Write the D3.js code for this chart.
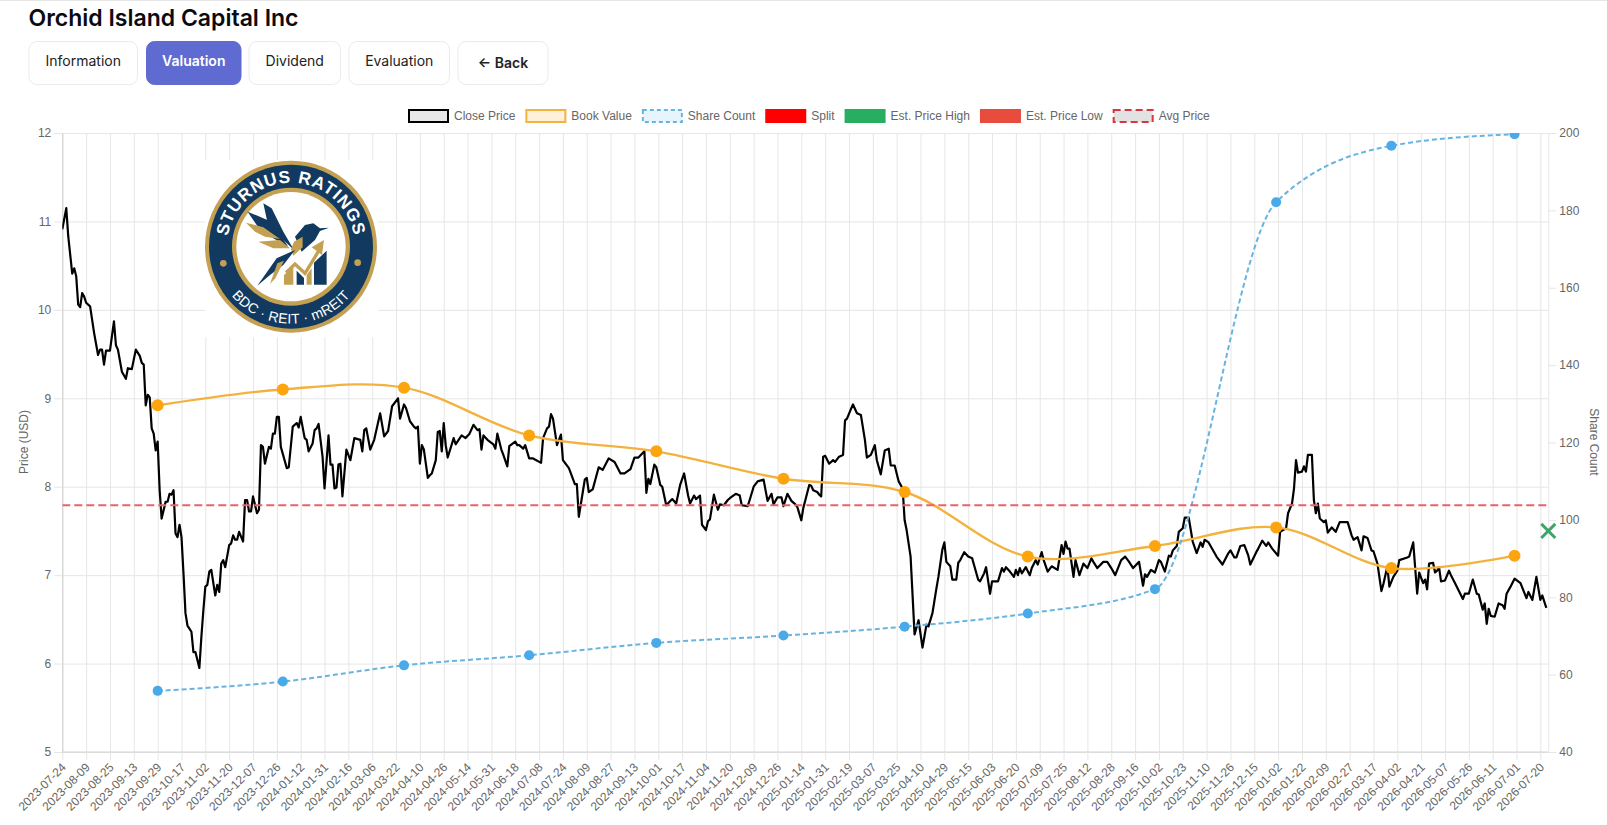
<!DOCTYPE html>
<html>
<head>
<meta charset="utf-8">
<title>Orchid Island Capital Inc</title>
<script src="https://cdn.jsdelivr.net/npm/d3@7"></script>
<style>
  html, body { margin: 0; padding: 0; background: #fff; overflow: hidden; }
  svg { display: block; }
  .nav { font-family: Inter, sans-serif; font-size: 14px; }
  .chart-text { font-family: "Liberation Sans", Arial, sans-serif; font-size: 12px; fill: #666; }
</style>
</head>
<body>
<div id="chart"></div>
<script>
const pageTitle = 'Orchid Island Capital Inc'
const navLabels = ['Information', 'Valuation', 'Dividend', 'Evaluation', '← Back']
const activeNav = 'Valuation'

const legendLabels = ['Close Price', 'Book Value', 'Share Count', 'Split', 'Est. Price High', 'Est. Price Low', 'Avg Price']

// one label every 12 trading days
const xLabels = [
  '2023-07-24','2023-08-09','2023-08-25','2023-09-13','2023-09-29','2023-10-17','2023-11-02','2023-11-20','2023-12-07','2023-12-26',
  '2024-01-12','2024-01-31','2024-02-16','2024-03-06','2024-03-22','2024-04-10','2024-04-26','2024-05-14','2024-05-31','2024-06-18',
  '2024-07-08','2024-07-24','2024-08-09','2024-08-27','2024-09-13','2024-10-01','2024-10-17','2024-11-04','2024-11-20','2024-12-09',
  '2024-12-26','2025-01-14','2025-01-31','2025-02-19','2025-03-07','2025-03-25','2025-04-10','2025-04-29','2025-05-15','2025-06-03',
  '2025-06-20','2025-07-09','2025-07-25','2025-08-12','2025-08-28','2025-09-16','2025-10-02','2025-10-23','2025-11-10','2025-11-26',
  '2025-12-15','2026-01-02','2026-01-22','2026-02-09','2026-02-27','2026-03-17','2026-04-02','2026-04-21','2026-05-07','2026-05-26',
  '2026-06-11','2026-07-01','2026-07-20'
]
const priceTicks = [5, 6, 7, 8, 9, 10, 11, 12]
const shareTicks = [40, 60, 80, 100, 120, 140, 160, 180, 200]

// trading day number and close, row by row
const closeDay = [
  0,2,3,5,6,7,8,9,10,11,12,14,
  16,18,19,20,21,22,24,26,27,28,30,32,
  33,35,37,39,40,41,42,43,44,45,46,47,
  48,49,50,52,53,54,55,56,57,58,59,60,
  61,62,63,65,66,67,69,70,71,72,73,74,
  75,77,78,79,80,81,82,84,85,86,87,88,
  89,91,92,93,94,95,96,98,99,100,101,102,
  104,105,106,107,108,109,110,113,114,116,118,119,
  120,122,123,124,126,127,128,129,131,132,134,135,
  136,137,138,139,140,141,143,145,147,150,151,152,
  153,155,157,160,
  162,164,166,169,170,172,173,175,177,178,179,180,
  181,182,184,185,186,188,189,190,191,192,193,194,
  197,198,201,203,205,207,209,210,211,212,214,217,
  218,219,221,222,224,225,228,229,230,232,233,235,
  237,241,242,244,245,246,247,249,251,252,255,256,
  258,259,260,262,263,264,265,267,270,272,275,278,
  281,283,286,288,290,293,294,295,296,298,299,301,
  302,304,307,309,311,313,315,316,318,319,321,322,
  324,325,326,328,330,331,333,335,336,339,341,342,
  345,346,348,350,353,
  355,357,358,360,362,363,365,367,369,370,372,373,
  376,377,378,380,381,382,383,384,386,388,389,391,
  393,394,395,397,398,400,402,404,405,407,409,410,
  412,414,416,417,419,421,423,424,425,427,429,431,
  433,435,436,438,440,441,443,444,445,447,448,450,
  451,452,454,456,458,461,462,464,465,467,468,471,
  473,474,475,477,479,480,481,482,483,485,487,488,
  490,491,493,494,496,498,501,503,504,505,506,507,
  509,510,512,514,516,518,519,521,524,526,528,530,
  533,535,537,539,542,
  544,545,546,548,550,552,553,555,557,558,559,561,
  562,564,565,567,569,571,573,574,575,577,581,584,
  587,588,590,591,593,595,597,598,601,602,604,606,
  607,609,612,613,616,617,619,620,621,622,624,625,
  626,627,629,630,631,632,633,635,636,637,639,641,
  643,647,649,650,652,654,655,657,659,660,662,664,
  665,667,668,670,672,673,677,678,680,682,683,685,
  686,687,688,690,691,692,693,694,696,698,699,701,
  705,706,708,710,712,713,715,716,717,718,719,721,
  723,725,726,727,729,731,734,737,738,740,742,744,
  745,747
]
const closePrice = [
  10.91,11.15,10.83,10.41,10.47,10.38,10.06,10.03,10.19,10.15,10.08,10.04,
  9.74,9.49,9.55,9.55,9.38,9.54,9.54,9.87,9.60,9.55,9.30,9.22,
  9.34,9.33,9.55,9.48,9.40,9.38,8.92,9.04,9.01,8.66,8.60,8.41,
  8.51,7.96,7.64,7.83,7.83,7.92,7.91,7.96,7.47,7.43,7.57,7.43,
  7.02,6.57,6.43,6.36,6.13,6.13,5.95,6.30,6.60,6.87,6.89,7.04,
  7.06,6.77,6.89,6.81,7.13,7.17,7.09,7.34,7.36,7.45,7.40,7.40,
  7.49,7.38,7.85,7.85,7.72,7.72,7.89,7.70,7.74,8.47,8.45,8.26,
  8.45,8.43,8.60,8.60,8.79,8.79,8.45,8.21,8.22,8.68,8.72,8.67,
  8.79,8.55,8.53,8.40,8.49,8.64,8.66,8.71,8.34,7.98,8.58,8.25,
  8.25,7.98,7.99,8.25,8.26,7.89,8.42,8.30,8.55,8.53,8.40,8.64,
  8.66,8.42,8.53,8.83,
  8.57,8.63,8.91,9.00,8.77,8.93,8.89,8.74,8.68,8.66,8.68,8.26,
  8.47,8.42,8.10,8.13,8.15,8.30,8.62,8.63,8.40,8.72,8.47,8.33,
  8.55,8.48,8.58,8.55,8.60,8.70,8.64,8.65,8.42,8.58,8.53,8.48,
  8.43,8.60,8.42,8.36,8.23,8.46,8.51,8.47,8.47,8.43,8.47,8.32,
  8.32,8.27,8.55,8.66,8.68,8.82,8.77,8.47,8.59,8.30,8.21,8.15,
  8.03,8.03,7.66,7.94,8.08,8.10,7.94,7.97,8.22,8.19,8.32,8.28,
  8.15,8.15,8.20,8.33,8.33,8.40,7.93,8.09,8.03,8.25,8.22,8.02,
  8.00,7.79,7.86,7.81,8.02,8.15,7.90,7.81,7.90,7.86,7.90,7.57,
  7.51,7.61,7.63,7.91,7.74,7.80,7.79,7.85,7.87,7.92,7.90,7.79,
  7.78,7.85,8.00,8.06,8.08,
  7.84,7.92,7.80,7.88,7.88,7.78,7.92,7.84,7.80,7.77,7.62,7.76,
  8.02,8.01,7.96,7.94,7.91,7.89,8.34,8.35,8.26,8.30,8.28,8.34,
  8.36,8.75,8.77,8.88,8.93,8.83,8.81,8.53,8.33,8.36,8.47,8.30,
  8.14,8.41,8.43,8.24,8.24,8.06,7.98,7.62,7.51,7.21,6.33,6.49,
  6.18,6.44,6.42,6.57,6.85,6.98,7.29,7.37,7.15,7.10,6.95,6.95,
  7.14,7.17,7.26,7.21,7.19,6.95,6.93,7.02,7.09,6.79,6.93,6.93,
  7.08,7.04,7.09,7.04,6.98,7.06,7.00,7.08,7.02,7.09,7.00,7.08,
  7.17,7.12,7.26,7.17,7.04,7.10,7.06,7.34,7.24,7.38,7.30,7.30,
  6.98,7.17,7.00,7.13,7.08,7.19,7.15,7.08,7.15,7.15,7.08,7.00,
  7.17,7.21,7.15,7.08,7.15,
  6.88,7.01,6.98,7.06,7.03,7.17,7.15,7.04,7.22,7.21,7.28,7.33,
  7.49,7.53,7.65,7.65,7.38,7.25,7.37,7.32,7.40,7.37,7.21,7.12,
  7.25,7.28,7.20,7.20,7.33,7.34,7.22,7.12,7.26,7.30,7.39,7.33,
  7.37,7.30,7.22,7.49,7.53,7.70,7.81,7.98,8.30,8.16,8.17,8.23,
  8.17,8.36,8.36,7.85,7.70,7.81,7.64,7.60,7.62,7.48,7.54,7.49,
  7.60,7.60,7.45,7.40,7.43,7.28,7.44,7.42,7.28,7.27,7.13,6.82,
  6.90,7.10,6.87,6.98,7.05,7.17,7.20,7.21,7.37,6.79,7.03,6.91,
  6.95,6.84,7.13,7.14,7.03,7.05,7.09,6.93,6.94,7.05,7.00,6.91,
  6.73,6.79,6.79,6.95,6.79,6.78,6.61,6.68,6.45,6.62,6.54,6.53,
  6.68,6.66,6.62,6.79,6.87,6.96,6.91,6.74,6.81,6.72,6.98,6.72,
  6.77,6.63
]

const bookDay = [48, 111, 172, 235, 299, 363, 424, 486, 550, 611, 669, 731]
const bookValue = [8.92, 9.10, 9.12, 8.58, 8.40, 8.09, 7.94, 7.21, 7.33, 7.54, 7.08, 7.22]

const shareDay = [48, 111, 172, 235, 299, 363, 424, 486, 550, 611, 669, 731]
const shareCount = [55.8, 58.2, 62.4, 65.0, 68.2, 70.1, 72.4, 75.8, 82.1, 182.1, 196.7, 199.7]

const avgPrice = 7.79
const estPriceDay = 748
const estPriceHigh = 7.5

const width = 1607
const height = 825
const plot = { left: 62.3, right: 1548.3, top: 133, bottom: 752 }

const svg = d3.select('#chart').append('svg')
  .attr('width', width)
  .attr('height', height)

const defs = svg.append('defs')
defs.append('clipPath').attr('id', 'plot-clip').append('rect')
  .attr('x', plot.left)
  .attr('y', plot.top)
  .attr('width', plot.right - plot.left)
  .attr('height', plot.bottom - plot.top)

// page header
svg.append('line')
  .attr('x1', 0).attr('x2', width)
  .attr('y1', 0.5).attr('y2', 0.5)
  .attr('stroke', '#e6e6e6')

svg.append('text')
  .attr('x', 28.5)
  .attr('y', 26)
  .attr('font-family', 'Inter, sans-serif')
  .attr('font-size', 23)
  .attr('font-weight', 600)
  .attr('fill', '#0b0b0f')
  .text(pageTitle)

const navX = [29, 146.5, 249, 349, 458]
const navW = [108.5, 94.5, 91.5, 100.5, 90]
const navG = svg.selectAll('g.nav').data(navLabels).enter().append('g')
  .attr('class', 'nav')
  .attr('transform', (d, i) => 'translate(' + navX[i] + ',41.5)')

navG.append('rect')
  .attr('width', (d, i) => navW[i])
  .attr('height', 43)
  .attr('rx', 8)
  .attr('fill', d => d === activeNav ? '#5f6bd1' : '#fff')
  .attr('stroke', d => d === activeNav ? '#5f6bd1' : '#ebebeb')

navG.append('text')
  .attr('x', (d, i) => navW[i] / 2)
  .attr('y', (d, i) => i === 4 ? 26 : 24.5)
  .attr('text-anchor', 'middle')
  .attr('font-weight', d => d === activeNav || d === '← Back' ? 600 : 400)
  .attr('fill', d => d === activeNav ? '#fff' : '#222')
  .text(d => d)

// scales
const x = d3.scaleLinear().domain([0, 748]).range([plot.left, plot.right])
const yPrice = d3.scaleLinear().domain([5, 12]).range([plot.bottom, plot.top])
const yShare = d3.scaleLinear().domain([40, 200]).range([plot.bottom, plot.top])
const tickDays = xLabels.map((d, i) => i * 12)

// grid
const gridColor = '#e6e6e6'
const xGrid = svg.append('g')
  .attr('transform', 'translate(0,' + plot.bottom + ')')
  .call(d3.axisBottom(x).tickValues(tickDays).tickSize(-(plot.bottom - plot.top)).tickFormat(''))
xGrid.select('.domain').remove()
xGrid.selectAll('line').attr('stroke', gridColor)

const yGrid = svg.append('g')
  .attr('transform', 'translate(' + plot.left + ',0)')
  .call(d3.axisLeft(yPrice).tickValues(priceTicks).tickSize(-(plot.right - plot.left)).tickFormat(''))
yGrid.select('.domain').remove()
yGrid.selectAll('line').attr('stroke', gridColor)

// axes
const xAxis = svg.append('g')
  .attr('transform', 'translate(0,' + plot.bottom + ')')
  .call(d3.axisBottom(x).tickValues(tickDays).tickSize(8).tickSizeOuter(0).tickFormat((d, i) => xLabels[i]))
xAxis.select('.domain').attr('stroke', '#d2d2d2').attr('d', 'M' + plot.left + ',0H' + plot.right)
xAxis.selectAll('line').attr('stroke', gridColor)
xAxis.selectAll('text')
  .attr('class', 'chart-text')
  .attr('text-anchor', 'end')
  .attr('dy', null)
  .attr('y', 0)
  .attr('transform', 'translate(4,16) rotate(-45)')

const leftAxis = svg.append('g')
  .attr('transform', 'translate(' + plot.left + ',0)')
  .call(d3.axisLeft(yPrice).tickValues(priceTicks).tickSize(8).tickPadding(3).tickSizeOuter(0).tickFormat(d3.format('d')))
leftAxis.select('.domain').attr('stroke', '#cfcfcf')
leftAxis.selectAll('line').attr('stroke', gridColor)
leftAxis.selectAll('text').attr('class', 'chart-text')

const rightAxis = svg.append('g')
  .attr('transform', 'translate(' + plot.right + ',0)')
  .call(d3.axisRight(yShare).tickValues(shareTicks).tickSize(8).tickPadding(3).tickSizeOuter(0).tickFormat(d3.format('d')))
rightAxis.select('.domain').attr('stroke', gridColor)
rightAxis.selectAll('line').attr('stroke', gridColor)
rightAxis.selectAll('text').attr('class', 'chart-text')

svg.append('text')
  .attr('class', 'chart-text')
  .attr('text-anchor', 'middle')
  .attr('transform', 'translate(28,442) rotate(-90)')
  .text('Price (USD)')

svg.append('text')
  .attr('class', 'chart-text')
  .attr('text-anchor', 'middle')
  .attr('transform', 'translate(1590,442) rotate(90)')
  .text('Share Count')

drawLogo()

// series
const marks = svg.append('g').attr('clip-path', 'url(#plot-clip)')

const closeLine = d3.line()
  .x(d => x(d))
  .y((d, i) => yPrice(closePrice[i]))

marks.append('path')
  .attr('d', closeLine(closeDay))
  .attr('fill', 'none')
  .attr('stroke', '#000')
  .attr('stroke-width', 2.2)
  .attr('stroke-linejoin', 'round')

const bookLine = d3.line()
  .x(d => x(d))
  .y((d, i) => yPrice(bookValue[i]))
  .curve(d3.curveCatmullRom.alpha(0.5))

marks.append('path')
  .attr('d', bookLine(bookDay))
  .attr('fill', 'none')
  .attr('stroke', '#f3b23e')
  .attr('stroke-width', 2.4)

marks.selectAll('circle.book').data(bookDay).enter().append('circle')
  .attr('class', 'book')
  .attr('cx', d => x(d))
  .attr('cy', (d, i) => yPrice(bookValue[i]))
  .attr('r', 6)
  .attr('fill', '#fca50f')

const shareLine = d3.line()
  .x(d => x(d))
  .y((d, i) => yShare(shareCount[i]))
  .curve(d3.curveMonotoneX)

marks.append('path')
  .attr('d', shareLine(shareDay))
  .attr('fill', 'none')
  .attr('stroke', '#68b4e0')
  .attr('stroke-width', 2)
  .attr('stroke-dasharray', '5,3')

marks.selectAll('circle.share').data(shareDay).enter().append('circle')
  .attr('class', 'share')
  .attr('cx', d => x(d))
  .attr('cy', (d, i) => yShare(shareCount[i]))
  .attr('r', 5)
  .attr('fill', '#49a9e9')

marks.append('line')
  .attr('x1', x(0))
  .attr('x2', x(747))
  .attr('y1', yPrice(avgPrice))
  .attr('y2', yPrice(avgPrice))
  .attr('stroke', '#e9626a')
  .attr('stroke-width', 2)
  .attr('stroke-dasharray', '8,4')

// the estimate marker sits on the right edge, not clipped
const crossPath = d3.symbol().type(d3.symbolTimes).size(130)
svg.append('path')
  .attr('d', crossPath())
  .attr('transform', 'translate(' + x(estPriceDay) + ',' + yPrice(estPriceHigh) + ')')
  .attr('fill', 'none')
  .attr('stroke', '#3fa56b')
  .attr('stroke-width', 3)

// legend
const legendStyle = [
  { fill: '#e8e8e8', stroke: '#000' },
  { fill: '#fff1d9', stroke: '#f3b23e' },
  { fill: '#e6f5fc', stroke: '#68b4e0', dash: '4,3' },
  { fill: '#ff0000', stroke: '#ff0000' },
  { fill: '#27ae60', stroke: '#27ae60' },
  { fill: '#e74c3c', stroke: '#e74c3c' },
  { fill: '#e2e2e2', stroke: '#d9343f', dash: '7,4' }
]
let legendX = 408
legendLabels.forEach((label, i) => {
  const s = legendStyle[i]
  svg.append('rect')
    .attr('x', legendX + 1)
    .attr('y', 110)
    .attr('width', 39)
    .attr('height', 12)
    .attr('fill', s.fill)
    .attr('stroke', s.stroke)
    .attr('stroke-width', 2)
    .attr('stroke-dasharray', s.dash || null)
  const t = svg.append('text')
    .attr('class', 'chart-text')
    .attr('x', legendX + 46)
    .attr('y', 120)
    .text(label)
  legendX += 46 + t.node().getComputedTextLength() + 10
})

function drawLogo() {
  const logoNavy = '#12395f'
  const logoGold = '#c4a052'
  svg.append('rect')
    .attr('x', 205).attr('y', 160)
    .attr('width', 173).attr('height', 177)
    .attr('fill', '#fff')

  // drawn in the 600x600 frame of the artwork
  const logo = svg.append('g').attr('transform', 'translate(180,140) scale(0.3333)')
  const cx = 333
  const cy = 320
  logo.append('circle').attr('cx', cx).attr('cy', cy).attr('r', 258).attr('fill', logoGold)
  logo.append('circle').attr('cx', cx).attr('cy', cy).attr('r', 246).attr('fill', logoNavy)
  logo.append('circle').attr('cx', cx).attr('cy', cy).attr('r', 177).attr('fill', logoGold)
  logo.append('circle').attr('cx', cx).attr('cy', cy).attr('r', 164).attr('fill', '#fff')
  logo.append('circle').attr('cx', 130).attr('cy', 370).attr('r', 10).attr('fill', logoGold)
  logo.append('circle').attr('cx', 533).attr('cy', 368).attr('r', 10).attr('fill', logoGold)

  const topR = 192
  const topA = Math.PI * 0.58
  logo.append('path').attr('id', 'logo-top').attr('fill', 'none')
    .attr('d', 'M' + (cx - topR * Math.sin(topA)) + ',' + (cy - topR * Math.cos(topA)) +
      'A' + topR + ',' + topR + ' 0 1 1 ' + (cx + topR * Math.sin(topA)) + ',' + (cy - topR * Math.cos(topA)))
  logo.append('path').attr('id', 'logo-bottom').attr('fill', 'none')
    .attr('d', 'M' + (cx - 231) + ',' + cy + 'A231,231 0 0 0 ' + (cx + 231) + ',' + cy)

  logo.append('text')
    .attr('font-family', '"Liberation Sans", Arial, sans-serif')
    .attr('font-size', 52)
    .attr('font-weight', 700)
    .attr('letter-spacing', 3)
    .attr('fill', '#fff')
    .append('textPath')
    .attr('href', '#logo-top')
    .attr('startOffset', '50%')
    .attr('text-anchor', 'middle')
    .text('STURNUS RATINGS')

  logo.append('text')
    .attr('font-family', '"Liberation Sans", Arial, sans-serif')
    .attr('font-size', 42)
    .attr('letter-spacing', 1)
    .attr('fill', '#fff')
    .append('textPath')
    .attr('href', '#logo-bottom')
    .attr('startOffset', '50%')
    .attr('text-anchor', 'middle')
    .text('BDC · REIT · mREIT')

  // bird and little bar chart
  const shapes = [
    [logoNavy, '250,190 275,205 310,275 342,330 300,290 262,245'],
    [logoNavy, '203,215 262,240 305,290 325,320 280,295 240,270'],
    [logoGold, '198,248 250,262 300,297 255,290 225,275'],
    [logoGold, '235,305 300,300 330,325 280,325'],
    [logoNavy, '345,290 375,255 400,250 420,265 447,263 420,273 405,300 365,335'],
    [logoGold, '342,305 368,290 368,322 340,347 333,328'],
    [logoNavy, '232,437 290,355 345,330 310,375 270,405'],
    [logoGold, '270,432 292,370 312,362 286,415'],
    [logoGold, '312,434 312,405 340,382 340,434'],
    [logoNavy, '350,434 350,392 372,414 372,434'],
    [logoGold, '380,434 380,405 395,385 395,434'],
    [logoNavy, '402,434 402,368 440,332 440,434']
  ]
  shapes.forEach(s => {
    logo.append('polygon').attr('fill', s[0]).attr('points', s[1])
  })
  logo.append('polyline')
    .attr('points', '318,398 345,372 375,400 418,330')
    .attr('fill', 'none')
    .attr('stroke', logoGold)
    .attr('stroke-width', 10)
  logo.append('polygon').attr('fill', logoGold).attr('points', '395,322 432,300 426,345')
}
</script>
</body>
</html>
